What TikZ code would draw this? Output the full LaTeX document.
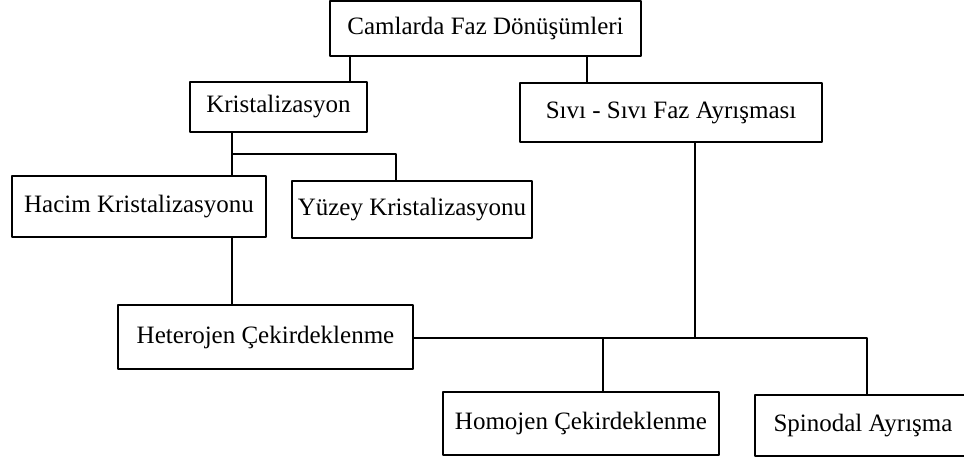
\documentclass[tikz,border=0pt]{standalone}
\usepackage{fontspec}
\setmainfont{Liberation Serif}
\usepackage{tikz}
\usetikzlibrary{positioning, calc}

\begin{document}
\begin{tikzpicture}[x=1pt, y=-1pt, line width=1.4pt, line join=bevel,
        kutu/.style={draw, rectangle, inner sep=0pt, font=\fontsize{25}{28}\selectfont}]
        \useasboundingbox (0,0) rectangle (964,463);
        % kutular
        \node[kutu, minimum width=311pt, minimum height=55pt] (faz)     at (485.5,28.5) {Camlarda Faz Dönüşümleri};
        \node[kutu, minimum width=177pt, minimum height=50pt] (kris)    at (278.5,107)  {Kristalizasyon};
        \node[kutu, minimum width=302pt, minimum height=59pt] (sivi)    at (671,112.5)  {Sıvı - Sıvı Faz Ayrışması};
        \node[kutu, minimum width=254pt, minimum height=61pt] (hacim)   at (139,206.5)  {Hacim Kristalizasyonu};
        \node[kutu, minimum width=240pt, minimum height=57pt] (yuzey)   at (412,209.5)  {Yüzey Kristalizasyonu};
        \node[kutu, minimum width=295pt, minimum height=64pt] (hetero)  at (265.5,337)  {Heterojen Çekirdeklenme};
        \node[kutu, minimum width=276pt, minimum height=63pt] (homo)    at (581,423.5)  {Homojen Çekirdeklenme};
        \node[kutu, minimum width=216pt, minimum height=61pt] (spino)   at (863,425.5)  {Spinodal Ayrışma};
        % baglantilar
        \coordinate (kk) at (232,154);
        \coordinate (hat) at (695,338);
        \draw (faz.south -| 350,0) -- (kris.north -| 350,0);
        \draw (faz.south -| 587,0) -- (sivi.north -| 587,0);
        \draw (kris.south -| kk) -- (hacim.north -| kk);
        \draw (kk) -| (yuzey.north -| 396,0);
        \draw (hacim.south -| kk) -- (hetero.north -| kk);
        \draw (sivi.south -| hat) -- (hat);
        \draw (hetero.east |- hat) -| (spino.north -| 867,0);
        \draw (hat -| 603,0) -- (homo.north -| 603,0);
\end{tikzpicture}
\end{document}
